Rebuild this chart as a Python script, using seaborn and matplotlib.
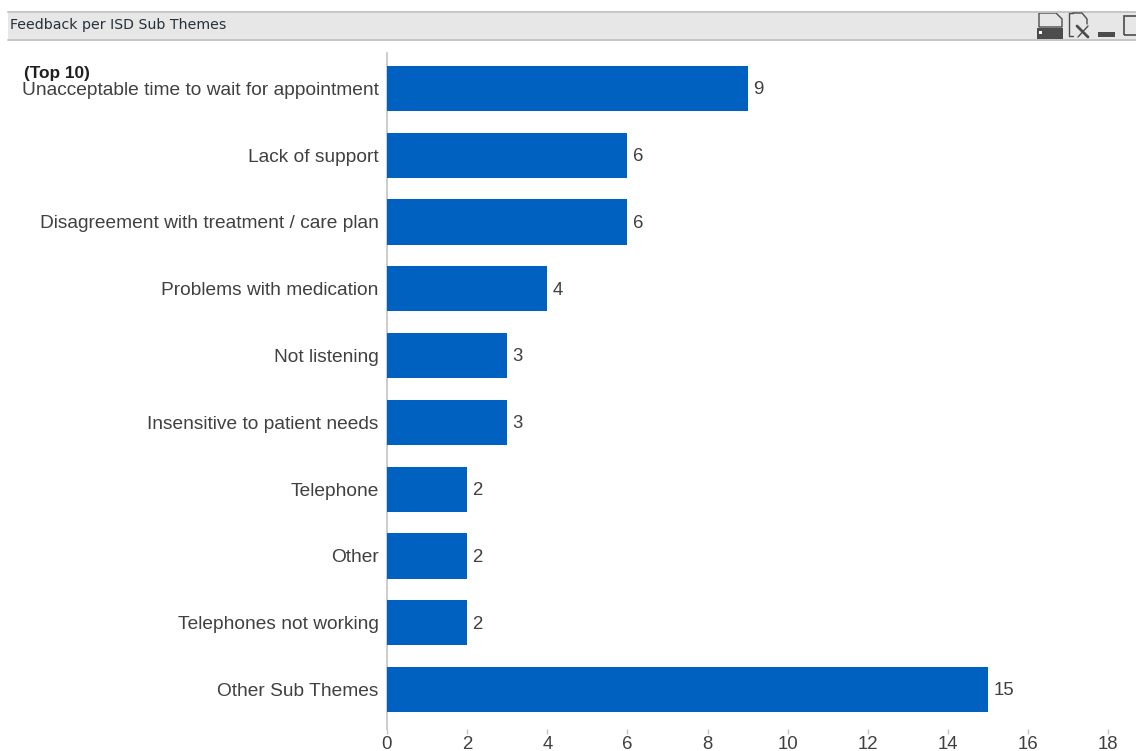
import matplotlib
matplotlib.use("Agg")
import matplotlib.pyplot as plt
from matplotlib.patches import Rectangle, Polygon
from matplotlib.lines import Line2D
import pandas as pd
import seaborn as sns

sub_themes = [
    "Unacceptable time to wait for appointment",
    "Lack of support",
    "Disagreement with treatment / care plan",
    "Problems with medication",
    "Not listening",
    "Insensitive to patient needs",
    "Telephone",
    "Other",
    "Telephones not working",
    "Other Sub Themes",
]
feedback_counts = [9, 6, 6, 4, 3, 3, 2, 2, 2, 15]
x_ticks = [0, 2, 4, 6, 8, 10, 12, 14, 16, 18]

W, H = 1136, 751
BAR_BLUE = "#0061C1"
TEXT_GREY = "#404040"
AXIS_GREY = "#C4C4C4"

sns.set_theme(style="white")
plt.rcParams["font.family"] = ["Liberation Sans", "DejaVu Sans"]

fig = plt.figure(figsize=(W / 100, H / 100), dpi=100, facecolor="white")


def fx(px):
    return px / W


def fy(py):
    return 1 - py / H


# plot area in pixel terms: left edge 387, top 53, bottom 729
ax = fig.add_axes([fx(387), fy(729), fx(W - 387), (729 - 53) / H])
frame = pd.DataFrame({"theme": sub_themes, "count": feedback_counts})
sns.barplot(data=frame, y="theme", x="count", color=BAR_BLUE, saturation=1,
            width=0.675, ax=ax, orient="h", linewidth=0)

ax.set_xlim(0, (W - 387) / 40.07)
ax.set_ylim(9.59, -0.53)
ax.set_xlabel("")
ax.set_ylabel("")
ax.set_xticks(x_ticks)
ax.tick_params(axis="x", length=3.5, width=1, color=AXIS_GREY, labelcolor=TEXT_GREY,
               labelsize=13.4, pad=1.2, bottom=True)
ax.tick_params(axis="y", length=0, labelcolor=TEXT_GREY, labelsize=13.78, pad=6)
for name in ("top", "right", "bottom"):
    ax.spines[name].set_visible(False)
ax.spines["left"].set_color(AXIS_GREY)
ax.spines["left"].set_linewidth(1.2)
ax.spines["left"].set_zorder(0.5)

value_labels = ax.bar_label(ax.containers[0], labels=[str(v) for v in feedback_counts],
                            padding=3.5, color=TEXT_GREY, fontsize=13.4)
for label in value_labels:
    label.xyann = (3.8, -1)

fig.text(fx(24), fy(73.5), "(Top 10)", fontsize=12.4, fontweight="bold",
         color="#202020", va="center", ha="left")

# window title strip with rules along its top and bottom
fig.add_artist(Rectangle((fx(8), fy(40)), fx(W - 8), 28 / H, transform=fig.transFigure,
                         facecolor="#E7E7E7", edgecolor="none"))
for rule_y in (12, 40):
    fig.add_artist(Line2D([fx(8), 1], [fy(rule_y), fy(rule_y)], transform=fig.transFigure,
                          color="#C6C6C6", linewidth=1.4))
fig.text(fx(10), fy(24.5), "Feedback per ISD Sub Themes", fontsize=10.15,
         family=["DejaVu Sans"], color="#26303A", va="center", ha="left")

# title strip icons: save, export, minimise, maximise
ICON = "#4C4C4C"
fig.add_artist(Polygon([(fx(1039), fy(27)), (fx(1039), fy(13)), (fx(1056), fy(13)),
                        (fx(1062), fy(19)), (fx(1062), fy(27))], closed=True,
                       transform=fig.transFigure, facecolor="none", edgecolor=ICON, linewidth=1))
fig.add_artist(Rectangle((fx(1037), fy(39)), fx(26), 11 / H, transform=fig.transFigure,
                         facecolor=ICON, edgecolor="none"))
fig.add_artist(Rectangle((fx(1039), fy(34)), fx(3), 3 / H, transform=fig.transFigure,
                         facecolor="white", edgecolor="none"))
fig.add_artist(Line2D([fx(1073), fx(1069), fx(1069), fx(1073)],
                      [fy(36), fy(36), fy(13), fy(13)], transform=fig.transFigure,
                      color=ICON, linewidth=1))
fig.add_artist(Line2D([fx(1073), fx(1082), fx(1087), fx(1087)],
                      [fy(13), fy(13), fy(19), fy(24)], transform=fig.transFigure,
                      color=ICON, linewidth=1))
fig.add_artist(Line2D([fx(1077), fx(1088)], [fy(26), fy(37)], transform=fig.transFigure,
                      color=ICON, linewidth=2))
fig.add_artist(Line2D([fx(1088), fx(1078)], [fy(26), fy(37)], transform=fig.transFigure,
                      color=ICON, linewidth=1))
fig.add_artist(Rectangle((fx(1098), fy(37)), fx(17), 5 / H, transform=fig.transFigure,
                         facecolor=ICON, edgecolor="none"))
fig.add_artist(Rectangle((fx(1124), fy(35)), fx(20), 19 / H, transform=fig.transFigure,
                         facecolor="none", edgecolor=ICON, linewidth=1.2))

fig.savefig("out.png", dpi=100, facecolor="white")
